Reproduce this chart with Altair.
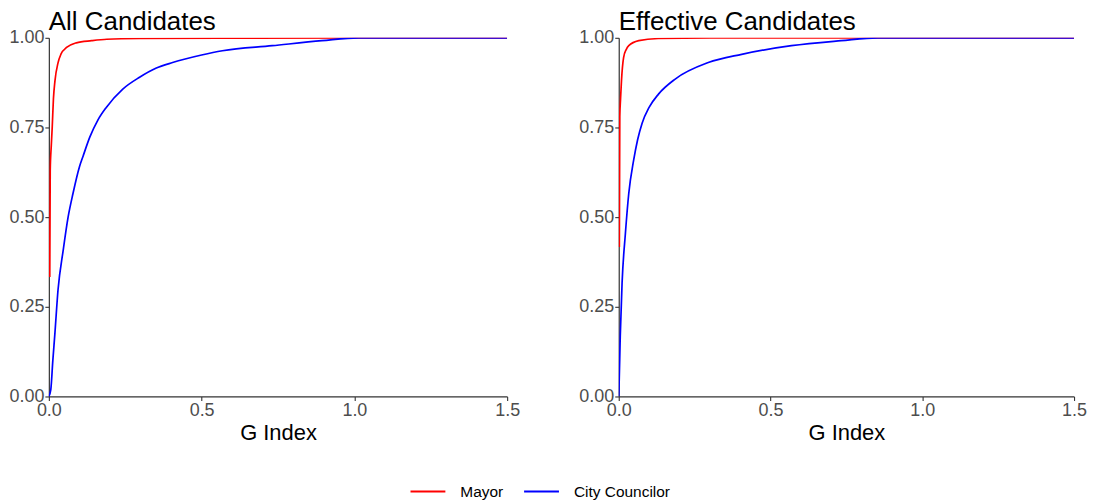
import altair as alt
import pandas as pd

# ---- data ----
all_mayor_x = [0.003, 0.0045, 0.008, 0.011, 0.015, 0.02, 0.03, 0.04, 0.058, 0.09, 0.14, 0.19, 0.3, 0.56, 1.0, 1.5]
all_mayor_y = [0.333, 0.63, 0.70, 0.75, 0.83, 0.88, 0.93, 0.955, 0.973, 0.986, 0.992, 0.996, 0.998, 0.999, 1.0, 1.0]

all_council_x = [0.0, 0.0065, 0.013, 0.02, 0.03, 0.047, 0.063, 0.079, 0.1, 0.112, 0.134, 0.16, 0.188, 0.242,
                 0.297, 0.35, 0.405, 0.5, 0.568, 0.731, 0.894, 1.014, 1.5]
all_council_y = [0.0, 0.02, 0.10, 0.178, 0.297, 0.408, 0.5, 0.566, 0.64, 0.67, 0.723, 0.77, 0.806, 0.857,
                 0.89, 0.915, 0.931, 0.952, 0.964, 0.978, 0.992, 1.0, 1.0]

eff_mayor_x = [0.002, 0.0035, 0.006, 0.009, 0.016, 0.025, 0.033, 0.066, 0.13, 0.3, 1.5]
eff_mayor_y = [0.417, 0.78, 0.83, 0.88, 0.945, 0.968, 0.978, 0.992, 0.998, 1.0, 1.0]

eff_council_x = [0.0, 0.001, 0.005, 0.011, 0.022, 0.033, 0.049, 0.062, 0.077, 0.1, 0.131, 0.186, 0.295,
                 0.405, 0.569, 0.733, 0.853, 1.5]
eff_council_y = [0.0, 0.025, 0.167, 0.316, 0.455, 0.566, 0.658, 0.715, 0.762, 0.806, 0.843, 0.885, 0.931,
                 0.954, 0.978, 0.992, 1.0, 1.0]

series_names = ["Mayor", "City Councilor"]
series_colors = ["#FF0000", "#0000FF"]
x_ticks = [0.0, 0.5, 1.0, 1.5]
y_ticks = [0.0, 0.25, 0.5, 0.75, 1.0]

FONT = "Liberation Sans"


def frame(xs, ys, name):
    return pd.DataFrame({"x": xs, "y": ys, "series": name, "order": list(range(len(xs)))})


def panel(title, mayor_df, council_df, width, show_legend):
    color = alt.Color(
        "series:N",
        scale=alt.Scale(domain=series_names, range=series_colors),
        legend=alt.Legend(
            title=None,
            orient="none",
            legendX=362,
            legendY=437,
            direction="horizontal",
            symbolType="stroke",
            symbolSize=1225,
            symbolStrokeWidth=2,
            labelFontSize=15.5,
            labelFont=FONT,
            labelColor="#000000",
            labelOffset=14,
            columnPadding=16,
        ) if show_legend else None,
    )
    x = alt.X("x:Q", scale=alt.Scale(domain=[0, 1.5], nice=False, zero=False),
              axis=alt.Axis(values=x_ticks, format=".1f", title="G Index"))
    y = alt.Y("y:Q", scale=alt.Scale(domain=[0, 1], nice=False),
              axis=alt.Axis(values=y_ticks, format=".2f", title=None))
    base = lambda d: alt.Chart(d).mark_line(strokeWidth=1.7, clip=True, interpolate="monotone").encode(
        x=x, y=y, color=color, order="order:Q")
    return alt.layer(base(mayor_df), base(council_df)).properties(
        width=width,
        height=360,
        title=alt.TitleParams(title, anchor="start", frame="group", fontSize=26, font=FONT,
                              fontWeight="normal", color="#000000", offset=-6),
    )


left = panel("All Candidates", frame(all_mayor_x, all_mayor_y, "Mayor"),
             frame(all_council_x, all_council_y, "City Councilor"), 460, True)
right = panel("Effective Candidates", frame(eff_mayor_x, eff_mayor_y, "Mayor"),
              frame(eff_council_x, eff_council_y, "City Councilor"), 457, False)

chart = alt.hconcat(left, right, spacing=58).properties(padding=0).configure_view(
    stroke=None
).configure_axis(
    grid=False,
    domainColor="#333333",
    domainWidth=1.2,
    tickColor="#333333",
    tickSize=4,
    tickWidth=1.1,
    labelFont=FONT,
    labelFontSize=18,
    labelColor="#4D4D4D",
    labelPadding=1,
    titleFont=FONT,
    titleFontSize=22,
    titleFontWeight="normal",
    titleColor="#000000",
    titlePadding=3,
).configure_axisX(labelFlush=False).configure_legend(labelLimit=300)

chart.save("out.html", embed_options={"renderer": "svg", "actions": False})
